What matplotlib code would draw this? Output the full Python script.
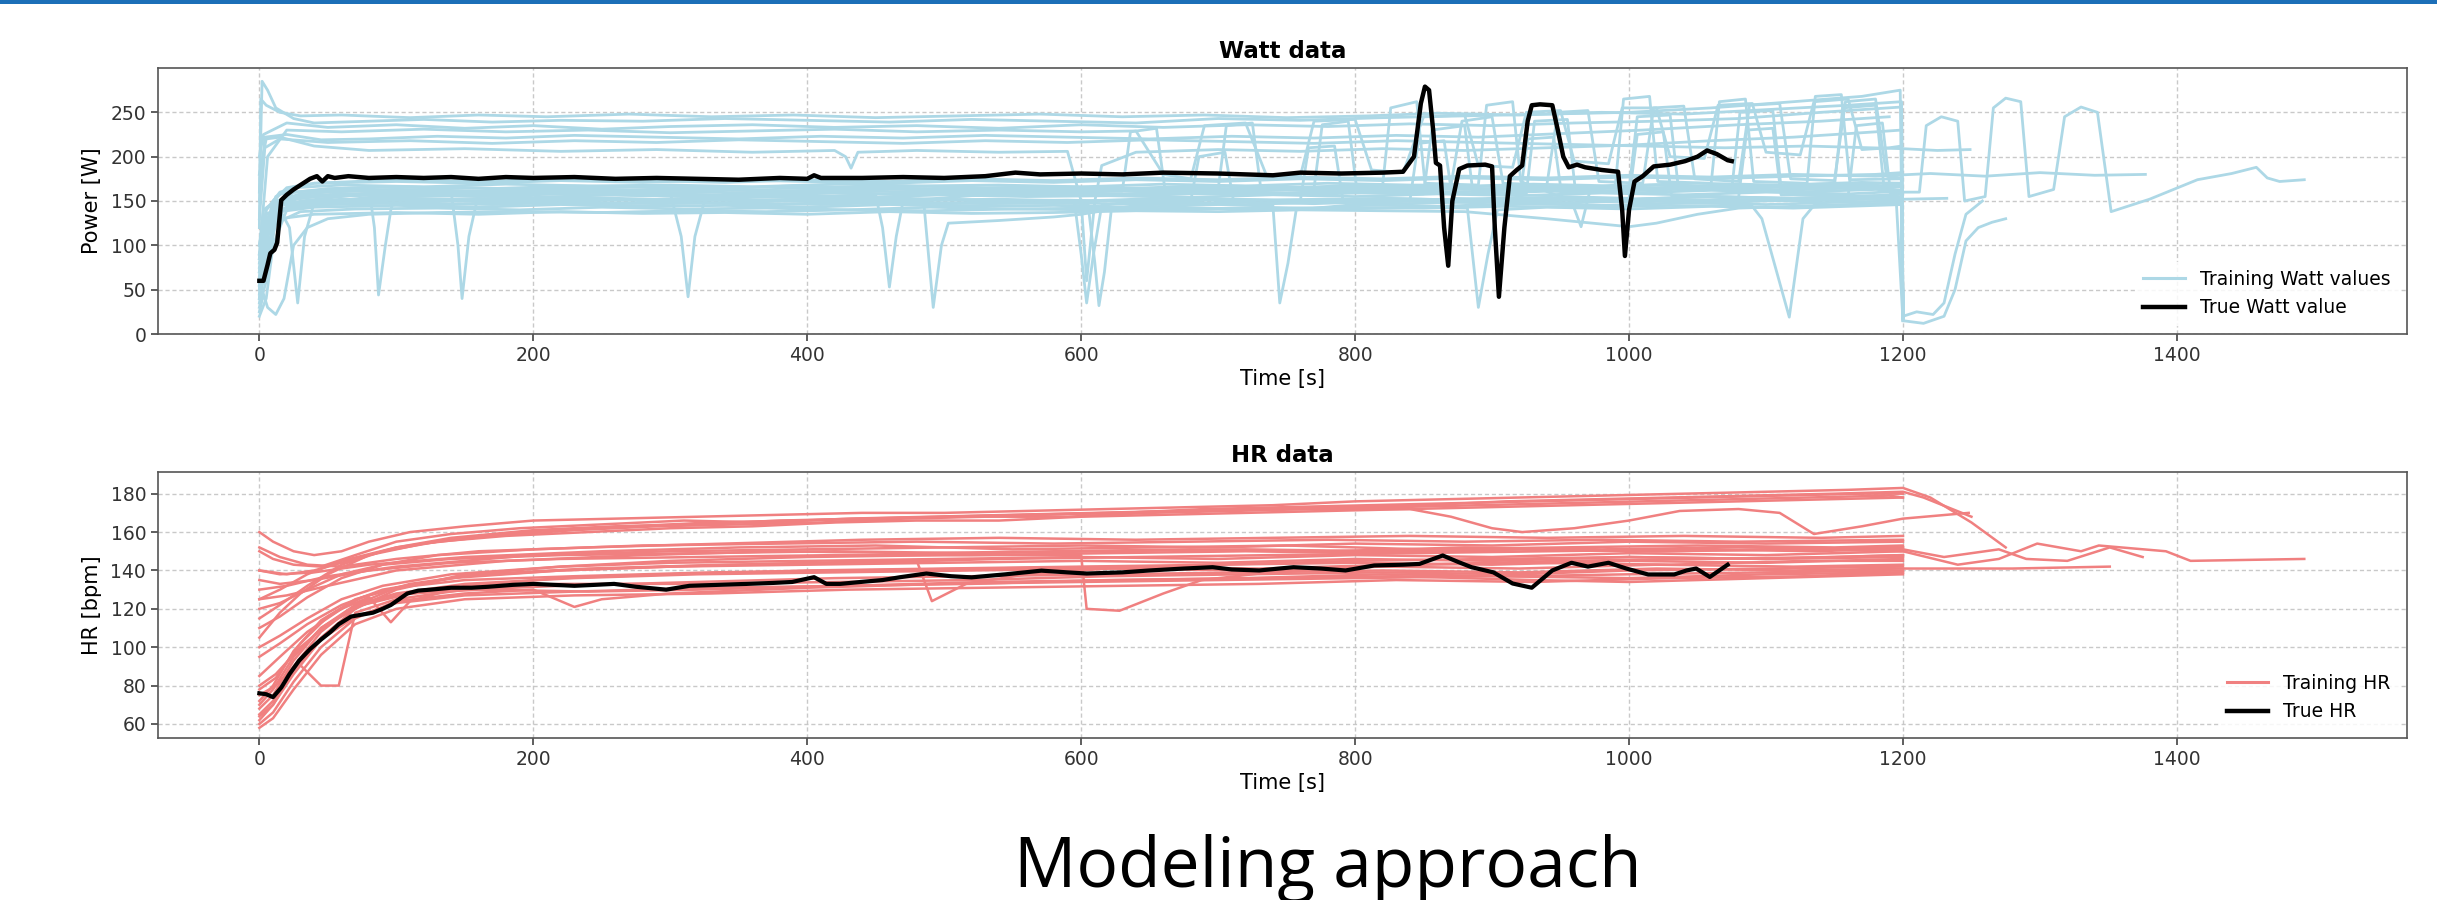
import matplotlib
matplotlib.use("Agg")
import matplotlib.pyplot as plt
from matplotlib.lines import Line2D
from matplotlib.patches import Rectangle

# ---------------- DATA ----------------
x_ticks = [0, 200, 400, 600, 800, 1000, 1200, 1400]
watt_yticks = [0, 50, 100, 150, 200, 250]
hr_yticks = [60, 80, 100, 120, 140, 160, 180]

# Training Watt series: list of (time [s], power [W])
watt_training = [
    [(0,160),(2,285),(6,275),(12,255),(25,243),(40,238),(80,240),(120,242),(170,239),(220,241),(280,240),(340,243),(400,241),(460,239),(520,242),(580,240),(640,238),(700,243),(760,241),(820,244),(880,246),(940,248),(1000,250),(1060,255),(1120,262),(1170,268),(1198,275),(1200,20)],
    [(0,120),(1,265),(5,258),(15,250),(30,246),(60,247),(110,244),(160,247),(210,245),(270,248),(330,245),(390,247),(450,244),(510,246),(570,248),(630,245),(690,247),(750,244),(810,246),(860,249),(920,247),(980,250),(1040,248),(1100,253),(1160,258),(1199,262),(1200,15)],
    [(0,200),(3,225),(20,238),(50,233),(100,236),(150,232),(200,235),(250,231),(300,234),(360,236),(420,233),(480,235),(540,232),(600,236),(660,233),(720,236),(780,234),(840,237),(900,235),(960,238),(1020,240),(1080,243),(1140,250),(1199,256),(1200,18)],
    [(0,150),(4,222),(20,225),(45,219),(80,220),(130,223),(180,221),(230,224),(290,222),(350,220),(410,223),(470,221),(530,224),(590,222),(650,220),(710,223),(770,221),(830,224),(890,222),(950,226),(1010,230),(1080,236),(1140,240),(1190,245)],
    [(0,180),(5,220),(15,222),(40,212),(80,207),(150,209),(220,206),(290,208),(360,205),(420,207),(428,200),(432,187),(437,205),(480,207),(540,205),(590,206),(600,150),(604,60),(610,150),(615,190),(640,205),(700,208),(760,206),(820,209),(880,207),(940,210),(1000,213),(1060,218),(1120,222),(1180,228),(1199,230),(1200,20)],
    [(0,90),(6,200),(20,230),(60,228),(120,231),(180,228),(240,230),(300,227),(360,229),(420,231),(480,228),(540,230),(600,228),(640,229),(660,180),(680,175),(690,235),(720,238),(735,180),(760,178),(770,240),(800,242),(812,185),(835,182),(850,245),(880,247),(890,190),(915,188),(925,250),(950,252),(960,195),(985,192),(995,255),(1020,255),(1030,200),(1055,198),(1065,258),(1090,260),(1100,205),(1125,202),(1135,262),(1160,265),(1170,208),(1190,210),(1199,212),(1200,20)],
    [(0,70),(5,120),(10,150),(20,165),(40,170),(100,172),(160,170),(220,173),(280,171),(340,174),(400,172),(460,170),(520,173),(580,171),(640,174),(700,172),(760,175),(820,173),(880,176),(940,174),(1000,177),(1060,175),(1120,178),(1180,180),(1199,182),(1200,18)],
    [(0,50),(5,110),(12,155),(25,165),(60,168),(120,166),(180,169),(240,167),(300,168),(360,166),(420,169),(480,167),(540,168),(600,166),(660,169),(720,167),(780,170),(840,168),(870,168),(878,240),(900,245),(908,170),(940,168),(948,250),(970,252),(978,172),(1010,170),(1018,255),(1040,257),(1048,175),(1080,172),(1088,258),(1110,260),(1118,175),(1150,173),(1158,262),(1180,265),(1188,178),(1199,176)],
    [(0,40),(4,90),(10,140),(25,160),(60,164),(80,165),(84,120),(87,44),(92,100),(96,140),(100,162),(150,165),(210,163),(270,166),(330,164),(390,167),(450,165),(510,163),(570,166),(630,164),(690,167),(750,165),(810,168),(870,166),(930,169),(990,167),(1050,170),(1110,168),(1170,171),(1199,170),(1200,22)],
    [(0,60),(5,120),(12,150),(30,158),(70,162),(140,161),(145,100),(148,40),(153,110),(160,158),(200,162),(260,160),(320,163),(380,161),(440,164),(500,162),(560,160),(620,163),(680,161),(740,164),(800,162),(860,165),(920,163),(980,166),(1040,164),(1100,167),(1160,165),(1199,168)],
    [(0,30),(5,60),(12,130),(25,152),(60,158),(120,160),(180,158),(240,161),(300,159),(308,110),(313,42),(318,110),(325,150),(340,158),(400,160),(460,158),(520,161),(580,159),(640,162),(700,160),(760,163),(820,161),(880,164),(940,162),(1000,165),(1060,163),(1120,166),(1180,164),(1199,166),(1200,16)],
    [(0,80),(5,130),(15,150),(40,155),(100,157),(160,155),(220,158),(280,156),(340,157),(400,155),(450,157),(455,120),(460,53),(465,110),(470,150),(520,156),(580,158),(640,156),(700,159),(760,157),(820,160),(880,158),(940,161),(1000,159),(1060,162),(1120,160),(1180,163),(1199,162)],
    [(0,20),(5,40),(10,100),(20,140),(50,150),(110,153),(170,151),(230,154),(290,152),(350,155),(410,153),(470,154),(485,150),(492,30),(498,100),(503,125),(540,128),(580,132),(600,135),(640,145),(700,152),(760,150),(820,153),(880,151),(940,154),(1000,152),(1060,155),(1120,153),(1180,156),(1199,155),(1200,24)],
    [(0,100),(3,140),(10,148),(50,150),(110,152),(170,150),(230,153),(290,151),(350,152),(410,150),(470,153),(530,151),(595,150),(600,90),(604,35),(609,90),(615,145),(640,150),(700,152),(760,150),(820,153),(880,151),(940,154),(1000,152),(1060,155),(1120,153),(1180,156),(1199,158)],
    [(0,50),(4,100),(12,140),(30,145),(80,148),(140,146),(200,149),(260,147),(320,148),(380,146),(440,149),(500,147),(560,148),(605,147),(610,80),(613,32),(617,70),(622,140),(660,148),(720,146),(780,149),(840,147),(900,150),(960,148),(1020,151),(1080,149),(1140,152),(1199,154),(1200,20)],
    [(0,70),(5,110),(15,138),(40,143),(100,145),(160,143),(220,146),(280,144),(340,145),(400,143),(460,146),(520,144),(580,145),(640,143),(700,146),(740,145),(745,35),(751,80),(757,140),(800,146),(860,144),(920,147),(980,145),(1040,148),(1100,146),(1160,149),(1199,150)],
    [(0,35),(5,80),(12,125),(30,138),(70,141),(130,142),(190,140),(250,143),(310,141),(370,142),(430,140),(490,143),(550,141),(610,142),(670,140),(730,143),(790,141),(850,143),(882,142),(890,30),(897,90),(904,140),(940,143),(1000,141),(1060,144),(1120,142),(1180,145),(1199,146),(1200,15)],
    [(0,25),(3,45),(6,30),(12,22),(18,40),(25,100),(35,120),(50,130),(80,135),(130,137),(190,138),(250,137),(310,139),(370,138),(430,140),(490,139),(550,141),(610,140),(670,142),(730,141),(790,143),(850,142),(910,144),(970,143),(1030,145),(1090,144),(1097,130),(1117,19),(1127,130),(1135,145),(1199,147),(1200,20)],
    [(0,90),(5,120),(15,130),(40,135),(100,137),(160,135),(220,138),(280,136),(340,137),(400,135),(460,138),(520,136),(580,137),(640,139),(700,138),(760,140),(820,139),(880,138),(940,130),(980,124),(1000,121),(1020,125),(1050,135),(1080,142),(1140,145),(1199,148)],
    [(0,45),(4,95),(10,140),(25,155),(60,158),(120,156),(180,159),(240,157),(300,158),(360,156),(420,159),(480,157),(540,158),(600,156),(660,159),(720,157),(780,160),(840,158),(850,158),(856,230),(880,235),(886,160),(925,158),(931,240),(955,242),(961,160),(1000,162),(1006,245),(1030,247),(1036,165),(1075,163),(1081,250),(1105,252),(1111,165),(1150,167),(1156,255),(1180,258),(1186,168),(1199,170),(1200,25)],
    [(0,65),(5,120),(15,145),(50,149),(110,151),(170,149),(230,152),(290,150),(350,151),(410,149),(470,152),(530,150),(590,151),(650,149),(680,150),(686,200),(705,205),(711,152),(760,150),(766,210),(785,212),(791,152),(840,150),(846,215),(865,218),(871,153),(920,151),(926,220),(945,222),(951,155),(1000,153),(1006,225),(1025,228),(1031,156),(1080,154),(1086,230),(1105,232),(1111,157),(1160,156),(1166,235),(1185,238),(1191,158),(1199,159)],
    [(0,55),(5,115),(15,140),(22,120),(28,35),(33,110),(40,148),(80,154),(140,156),(200,154),(260,157),(320,155),(380,156),(440,154),(500,157),(560,155),(620,156),(680,154),(740,157),(800,155),(860,158),(920,156),(980,159),(1040,157),(1100,160),(1160,158),(1199,161)],
    [(0,75),(5,125),(15,145),(40,160),(100,163),(160,161),(220,164),(280,162),(340,163),(400,161),(460,164),(520,162),(580,163),(640,161),(700,164),(760,162),(820,165),(880,163),(940,166),(1000,164),(1060,167),(1120,165),(1180,168),(1200,160),(1212,160),(1217,235),(1228,245),(1240,240),(1245,150),(1260,155),(1266,255),(1275,266),(1286,262),(1292,155),(1310,163),(1318,245),(1330,256),(1342,250),(1352,138),(1380,152),(1415,174),(1440,181),(1458,188),(1466,176),(1475,172),(1493,174)],
    [(0,85),(5,140),(15,160),(40,170),(100,174),(160,172),(220,175),(280,173),(340,171),(400,174),(460,172),(520,175),(580,173),(640,176),(700,174),(760,177),(820,175),(880,178),(940,176),(1000,179),(1060,177),(1120,180),(1180,178),(1220,181),(1260,178),(1300,182),(1340,179),(1377,180)],
    [(0,130),(4,210),(15,220),(50,216),(110,218),(170,215),(230,218),(290,216),(350,219),(410,217),(470,215),(530,218),(590,216),(650,219),(710,217),(770,215),(830,218),(890,216),(950,214),(1010,212),(1070,210),(1130,212),(1200,209),(1225,207),(1249,208)],
    [(0,100),(5,135),(20,148),(60,152),(120,150),(180,153),(240,151),(300,152),(360,150),(420,153),(480,151),(540,152),(600,150),(660,153),(720,151),(780,152),(840,150),(900,153),(960,151),(1020,152),(1080,150),(1140,153),(1200,152),(1232,153)],
    [(0,60),(5,110),(15,140),(50,146),(110,148),(170,146),(230,149),(290,147),(350,148),(410,146),(470,149),(530,147),(590,148),(650,146),(710,149),(770,147),(830,150),(890,148),(950,151),(1010,149),(1070,152),(1130,150),(1195,153),(1200,15),(1215,12),(1230,20),(1238,50),(1246,105),(1255,120),(1265,126),(1275,130)],
    [(0,40),(5,90),(12,135),(30,150),(90,160),(150,158),(210,161),(270,159),(330,160),(390,158),(450,161),(510,159),(570,160),(630,158),(690,161),(750,159),(810,162),(870,160),(930,163),(990,161),(1050,164),(1110,162),(1170,165),(1199,166),(1200,20),(1210,25),(1222,22),(1230,35),(1238,90),(1246,135),(1258,150)],
    [(0,85),(5,140),(15,158),(50,164),(110,166),(170,164),(230,167),(290,165),(350,166),(410,164),(470,167),(530,165),(590,166),(650,164),(710,167),(770,165),(820,166),(826,255),(845,262),(851,170),(890,168),(896,258),(915,262),(921,172),(958,150),(965,121),(972,165),(990,168),(996,265),(1015,268),(1021,172),(1060,170),(1066,262),(1085,265),(1091,172),(1130,170),(1136,268),(1155,270),(1161,174),(1199,175),(1200,18)],
    [(0,55),(5,115),(15,150),(40,160),(100,163),(160,161),(220,164),(280,162),(340,163),(400,161),(460,164),(520,162),(580,163),(630,161),(636,228),(655,232),(661,165),(700,163),(706,235),(725,238),(731,166),(770,164),(776,236),(795,240),(801,166),(840,165),(900,167),(960,165),(1020,168),(1080,166),(1140,169),(1199,170)],
]

watt_true_t = [0,3,6,8,11,13,16,20,25,32,37,42,46,50,55,65,80,100,120,140,160,180,200,230,260,290,320,350,380,400,405,410,440,470,500,530,552,570,600,630,660,700,740,760,790,820,835,843,848,851,854,857,859,862,865,868,871,876,882,895,900,902,905,909,913,918,922,926,929,935,944,948,952,956,962,968,980,992,995,997,1000,1004,1010,1018,1030,1041,1050,1057,1064,1072,1075]
watt_true_v = [60,60,78,91,95,103,151,157,163,170,175,178,172,178,176,178,176,177,176,177,175,177,176,177,175,176,175,174,176,175,179,176,176,177,176,178,182,180,181,180,182,181,179,182,181,182,183,200,260,279,275,230,193,190,120,77,150,186,190,191,189,120,42,120,178,185,190,240,258,259,258,230,200,188,191,188,185,183,140,88,140,172,178,189,191,195,200,207,203,196,195]

# Training HR series: list of (time [s], HR [bpm])
hr_training = [
    [(0,160),(10,155),(25,150),(40,148),(60,150),(80,155),(110,160),(150,163),(200,166),(260,167),(320,168),(380,169),(440,170),(500,170),(560,171),(620,172),(680,173),(740,174),(800,176),(860,177),(920,178),(980,179),(1040,180),(1100,181),(1160,182),(1200,183),(1220,178),(1250,165),(1275,152)],
    [(0,150),(10,146),(25,143),(45,142),(70,148),(100,155),(140,159),(190,162),(250,164),(310,166),(370,165),(430,167),(490,168),(550,169),(610,170),(670,171),(730,172),(790,173),(850,174),(910,176),(970,177),(1030,178),(1090,179),(1150,180),(1200,181),(1215,178),(1250,168)],
    [(0,140),(20,138),(40,140),(70,146),(100,152),(140,157),(200,161),(260,163),(320,164),(380,166),(440,167),(500,168),(560,169),(620,170),(680,171),(740,172),(800,172),(840,172),(870,168),(900,162),(922,160),(960,162),(1000,166),(1037,171),(1080,172),(1110,170),(1135,159),(1170,163),(1200,167),(1248,170)],
    [(0,125),(15,130),(35,138),(60,145),(100,152),(150,157),(210,161),(270,163),(330,165),(390,166),(450,167),(510,168),(570,169),(630,170),(690,172),(750,173),(810,174),(870,175),(930,176),(990,177),(1050,178),(1110,179),(1170,180),(1200,180)],
    [(0,105),(15,118),(30,128),(50,138),(80,148),(120,154),(170,158),(230,161),(290,163),(350,164),(410,165),(470,167),(530,168),(590,168),(650,170),(710,171),(770,172),(830,173),(890,174),(950,175),(1010,176),(1070,177),(1130,178),(1190,179),(1200,178)],
    [(0,115),(15,122),(35,132),(60,143),(90,150),(130,155),(180,158),(240,160),(300,162),(360,163),(420,165),(480,166),(540,166),(600,168),(660,169),(720,170),(780,171),(840,172),(900,173),(960,174),(1020,175),(1080,176),(1140,177),(1200,178)],
    [(0,130),(20,132),(50,137),(100,142),(200,148),(300,150),(400,151),(500,152),(600,153),(700,152),(800,154),(900,153),(1000,155),(1100,154),(1200,155)],
    [(0,140),(15,138),(40,139),(80,143),(150,147),(250,150),(350,152),(450,153),(550,151),(650,152),(750,153),(850,151),(950,152),(1050,153),(1150,152),(1200,153)],
    [(0,125),(20,127),(50,132),(100,140),(180,145),(280,148),(380,150),(480,149),(580,150),(680,151),(780,150),(880,152),(980,151),(1080,152),(1200,151),(1230,147),(1270,151),(1290,146),(1320,145),(1351,152),(1375,147)],
    [(0,62),(10,70),(25,88),(45,105),(70,120),(100,130),(150,138),(220,142),(300,144),(400,145),(500,146),(600,147),(700,146),(800,148),(900,147),(1000,149),(1100,148),(1200,150),(1240,143),(1270,146),(1298,154),(1330,150),(1343,153),(1392,150),(1410,145),(1493,146)],
    [(0,65),(10,72),(25,90),(45,108),(70,122),(100,131),(150,137),(220,140),(300,142),(400,143),(500,144),(600,145),(700,144),(800,146),(900,145),(1000,147),(1100,146),(1200,147)],
    [(0,70),(10,78),(25,95),(45,110),(70,122),(100,128),(150,133),(230,136),(320,138),(420,139),(520,140),(620,141),(720,140),(820,142),(920,141),(1020,143),(1120,142),(1200,143)],
    [(0,60),(10,66),(25,82),(45,100),(70,115),(100,124),(150,128),(200,130),(230,121),(250,125),(300,128),(400,131),(500,133),(600,134),(700,135),(800,136),(900,137),(1000,136),(1100,138),(1200,139)],
    [(0,75),(12,80),(28,92),(45,80),(58,80),(70,118),(100,125),(150,130),(220,132),(320,134),(420,136),(520,137),(620,138),(720,139),(820,140),(920,139),(1020,141),(1120,140),(1200,141),(1280,141),(1351,142)],
    [(0,95),(15,102),(35,112),(60,122),(90,130),(140,136),(220,140),(300,142),(400,144),(480,145),(491,124),(516,133),(560,138),(620,141),(700,143),(800,145),(900,146),(1000,147),(1100,146),(1200,148)],
    [(0,100),(15,106),(35,115),(60,125),(90,132),(140,138),(220,142),(300,145),(400,147),(500,148),(600,148),(604,120),(628,119),(660,128),(688,135),(750,140),(850,143),(950,145),(1050,146),(1150,147),(1200,148)],
    [(0,85),(15,95),(35,108),(60,120),(80,126),(96,113),(110,124),(150,132),(220,136),(300,138),(400,140),(500,141),(600,142),(700,143),(800,144),(900,143),(1000,145),(1100,144),(1200,146)],
    [(0,68),(10,75),(25,93),(45,110),(70,121),(100,127),(150,131),(220,133),(320,133),(420,134),(520,135),(620,137),(720,138),(820,139),(920,138),(1000,140),(1100,141),(1200,142)],
    [(0,80),(12,86),(30,100),(50,112),(75,122),(110,128),(160,130),(240,129),(320,130),(420,132),(520,133),(620,135),(720,136),(820,138),(920,137),(1000,138),(1100,139),(1200,140)],
    [(0,110),(15,116),(35,126),(60,136),(90,143),(130,148),(200,151),(280,153),(380,154),(480,155),(580,154),(680,155),(780,156),(880,155),(980,156),(1080,155),(1200,156)],
    [(0,120),(15,123),(35,130),(60,138),(90,143),(140,146),(220,148),(320,149),(420,150),(520,149),(620,150),(720,151),(820,150),(920,151),(1020,150),(1120,151),(1200,152)],
    [(0,72),(10,80),(25,98),(45,114),(70,125),(100,131),(150,135),(230,137),(330,139),(430,140),(530,141),(630,142),(730,141),(830,143),(930,144),(1030,143),(1130,145),(1200,145)],
    [(0,64),(10,70),(25,86),(45,104),(70,116),(100,123),(150,127),(230,129),(330,131),(430,132),(530,134),(630,135),(730,136),(830,137),(930,135),(1000,134),(1100,136),(1200,138)],
    [(0,78),(12,84),(30,102),(50,116),(75,126),(110,133),(160,138),(240,141),(340,143),(440,144),(540,146),(640,147),(740,148),(840,149),(940,150),(1040,151),(1140,150),(1200,152)],
    [(0,58),(10,63),(25,78),(45,96),(70,112),(100,120),(150,125),(230,127),(330,128),(430,130),(530,131),(630,132),(730,133),(830,135),(930,134),(1030,136),(1130,137),(1200,139)],
    [(0,152),(15,147),(35,143),(60,142),(100,146),(160,150),(240,152),(340,154),(440,156),(540,157),(640,156),(740,157),(840,158),(940,157),(1040,158),(1140,157),(1200,158)],
    [(0,135),(15,133),(40,135),(80,140),(140,144),(220,146),(320,147),(420,148),(520,148),(620,149),(720,150),(820,149),(920,151),(1020,150),(1120,151),(1200,150)],
]

hr_true_t = [0,5,10,16,22,29,37,45,52,58,67,75,83,90,96,102,108,116,125,140,155,167,185,200,215,230,245,259,275,297,314,335,356,375,389,405,414,424,439,455,468,487,505,520,545,571,590,604,630,650,675,696,710,730,755,775,793,814,835,847,864,875,885,901,915,929,944,958,970,985,998,1014,1033,1042,1049,1059,1072]
hr_true_v = [76,75.5,74,79,86,93,99,104,108,112,116,117,118,120,122,125,128,129.5,130,131,131,131.5,132.5,133,132.5,132,132.5,133,131.5,130,132,132.5,133,133.5,134,136.5,133,133,134,135,136.5,138.4,137,136.4,138,139.9,139,138.4,139,140,141,141.7,140.5,140,141.7,141,140,142.6,143,143.4,147.8,144.5,141.7,139,133.2,131,140,144,142,144,141,137.9,137.9,140,141,136.6,143]

# ---------------- STYLE / LAYOUT ----------------
train_blue = "#add8e6"
train_red = "#f08080"
grid_kw = dict(color="#c4c4c4", linestyle=(0, (3, 2)), linewidth=1.0, alpha=0.9)

fig = plt.figure(figsize=(24.37, 9), dpi=100)
fig.patch.set_facecolor("white")
fig.patches.append(Rectangle((0, 1 - 4 / 900), 1, 4 / 900, transform=fig.transFigure,
                             facecolor="#1c6fb8", edgecolor="none", zorder=10))

ax1 = fig.add_axes([158 / 2437, 1 - 334 / 900, (2407 - 158) / 2437, 266 / 900])
ax2 = fig.add_axes([158 / 2437, 1 - 738 / 900, (2407 - 158) / 2437, 266 / 900])


def style_axis(ax):
    ax.grid(True, **grid_kw)
    ax.set_axisbelow(True)
    for s in ax.spines.values():
        s.set_color("#555555")
        s.set_linewidth(1.2)
    ax.tick_params(axis="both", labelsize=13.5, colors="#333333", length=5, width=1.1)
    ax.set_xticks(x_ticks)
    ax.set_xlim(-74, 1568)


for series in watt_training:
    t = [p[0] for p in series]
    v = [p[1] for p in series]
    ax1.plot(t, v, color=train_blue, lw=2.0, zorder=2)
ax1.plot(watt_true_t, watt_true_v, color="black", lw=3.2, zorder=3)
style_axis(ax1)
ax1.set_ylim(0, 300)
ax1.set_yticks(watt_yticks)
ax1.set_title("Watt data", fontsize=16.5, fontweight="bold", pad=7)
ax1.set_xlabel("Time [s]", fontsize=15, labelpad=3)
ax1.set_ylabel("Power [W]", fontsize=15, labelpad=6)
ax1.legend(handles=[Line2D([], [], color=train_blue, lw=2.2),
                    Line2D([], [], color="black", lw=3.2)],
           labels=["Training Watt values", "True Watt value"],
           loc="lower right", fontsize=13.5, frameon=True, framealpha=0.85,
           edgecolor="white", handlelength=2.2)

for series in hr_training:
    t = [p[0] for p in series]
    v = [p[1] for p in series]
    ax2.plot(t, v, color=train_red, lw=1.8, zorder=2)
ax2.plot(hr_true_t, hr_true_v, color="black", lw=3.0, zorder=3)
style_axis(ax2)
ax2.set_ylim(52.7, 191.3)
ax2.set_yticks(hr_yticks)
ax2.set_title("HR data", fontsize=16.5, fontweight="bold", pad=7)
ax2.set_xlabel("Time [s]", fontsize=15, labelpad=3)
ax2.set_ylabel("HR [bpm]", fontsize=15, labelpad=6)
ax2.legend(handles=[Line2D([], [], color=train_red, lw=2.2),
                    Line2D([], [], color="black", lw=3.2)],
           labels=["Training HR", "True HR"],
           loc="lower right", fontsize=13.5, frameon=True, framealpha=0.85,
           edgecolor="white", handlelength=2.2)

fig.text(1328 / 2437, 1 - 887 / 900, "Modeling approach", ha="center", va="baseline",
         fontsize=50, family=["Open Sans", "DejaVu Sans"], color="black")

fig.savefig("out.png", dpi=100, facecolor="white")
